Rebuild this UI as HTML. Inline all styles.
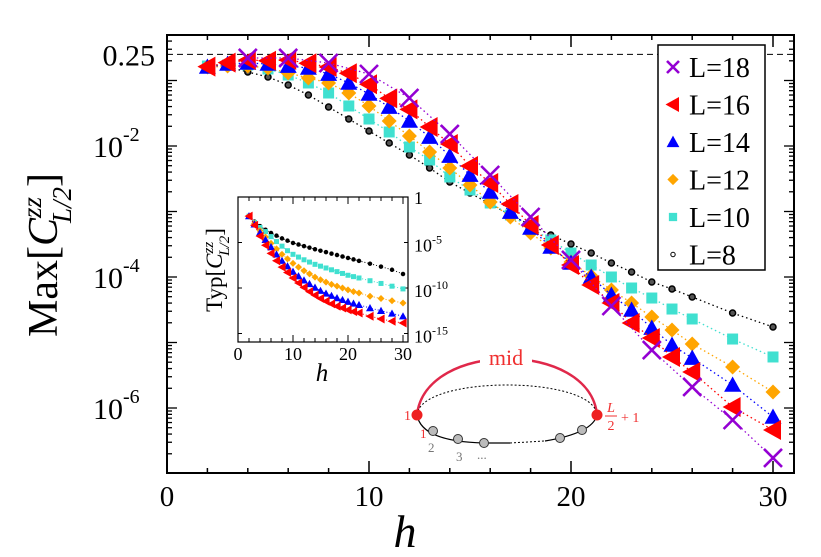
<!DOCTYPE html>
<html><head><meta charset="utf-8"><style>
html,body{margin:0;padding:0;background:#fff;}
svg{display:block;}
text{font-family:"Liberation Serif",serif;}
</style></head><body>
<svg id="chart" width="821" height="557" viewBox="0 0 821 557" xmlns="http://www.w3.org/2000/svg" font-family="Liberation Serif, serif">
<g id="main"></g>
<g id="inset"></g>
<g id="diagram">
  <path d="M417,415 C425,340 590,340 597,415" fill="none" stroke="#e0284a" stroke-width="2.5"/>
  <rect x="480" y="347" width="52" height="22" fill="#fff"/>
  <text x="506" y="365" font-size="22" fill="#f03030" text-anchor="middle" font-family="Liberation Serif, serif">mid</text>
  <path d="M417,415 C420,375 594,375 597,415" fill="none" stroke="#000" stroke-width="1" stroke-dasharray="2,2"/>
  <path d="M417,415 C420,432 440,442 484,443 L510,443" fill="none" stroke="#000" stroke-width="1.2"/>
  <path d="M510,443 L545,441" fill="none" stroke="#000" stroke-width="1" stroke-dasharray="2,2"/>
  <path d="M545,441 C575,436 594,428 597,415" fill="none" stroke="#000" stroke-width="1.2"/>
  <circle cx="433" cy="431" r="4.5" fill="#bbb" stroke="#333"/>
  <circle cx="458" cy="439" r="4.5" fill="#bbb" stroke="#333"/>
  <circle cx="484" cy="443" r="4.5" fill="#bbb" stroke="#333"/>
  <circle cx="560" cy="438" r="4.5" fill="#bbb" stroke="#333"/>
  <circle cx="582" cy="430" r="4.5" fill="#bbb" stroke="#333"/>
  <circle cx="417" cy="415" r="5.5" fill="#ee2020"/>
  <circle cx="597" cy="415" r="5.5" fill="#ee2020"/>
  <text x="404" y="420" font-size="14" fill="#f03030" font-family="Liberation Serif, serif">1</text>
  <text x="420" y="438" font-size="13" fill="#f03030" font-family="Liberation Serif, serif">1</text>
  <text x="428" y="452" font-size="13" fill="#777" font-family="Liberation Serif, serif">2</text>
  <text x="456" y="461" font-size="13" fill="#777" font-family="Liberation Serif, serif">3</text>
  <text x="477" y="459" font-size="13" fill="#777" font-family="Liberation Serif, serif">...</text>
  <text x="611" y="412" font-size="14" fill="#f03030" font-style="italic" text-anchor="middle" font-family="Liberation Serif, serif">L</text>
  <line x1="605" y1="416" x2="617" y2="416" stroke="#f03030" stroke-width="1"/>
  <text x="611" y="430" font-size="14" fill="#f03030" text-anchor="middle" font-family="Liberation Serif, serif">2</text>
  <text x="621" y="422" font-size="14" fill="#f03030" font-family="Liberation Serif, serif">+ 1</text>
</g>
</svg>
<script>
// ===== main plot data (log10 of Max[C]) =====
const hA = [2,3,4,5,6,7,8,9,10,11,12,13,14,15,16,17,18,19,20,21,22,23,24,25,26,28,30];
const hL18 = [4,6,8,10,12,14,16,18,20,22,24,26,28,30];
const logL18 = [-0.656,-0.656,-0.733,-0.901,-1.267,-1.817,-2.443,-3.084,-3.740,-4.443,-5.115,-5.679,-6.183,-6.763];
const logL16 = [-0.789,-0.728,-0.687,-0.698,-0.687,-0.737,-0.794,-0.890,-1.058,-1.272,-1.440,-1.710,-1.969,-2.305,-2.565,-2.885,-3.206,-3.511,-3.817,-4.122,-4.397,-4.702,-4.931,-5.221,-5.450,-5.985,-6.336];
const logL14 = [-0.794,-0.748,-0.733,-0.748,-0.779,-0.809,-0.901,-1.038,-1.206,-1.405,-1.618,-1.863,-2.153,-2.443,-2.702,-3.008,-3.252,-3.542,-3.786,-4.000,-4.275,-4.504,-4.779,-5.038,-5.237,-5.649,-6.137];
const logL12 = [-0.794,-0.779,-0.779,-0.809,-0.885,-0.962,-1.038,-1.191,-1.389,-1.618,-1.847,-2.092,-2.336,-2.595,-2.855,-3.084,-3.328,-3.557,-3.771,-3.985,-4.198,-4.397,-4.611,-4.809,-5.023,-5.374,-5.756];
const logL10 = [-0.779,-0.763,-0.763,-0.824,-0.916,-1.038,-1.191,-1.389,-1.588,-1.786,-2.015,-2.214,-2.473,-2.672,-2.870,-3.053,-3.252,-3.435,-3.634,-3.817,-4.000,-4.168,-4.321,-4.489,-4.641,-4.947,-5.221];
const logL8 = [-0.779,-0.794,-0.870,-0.947,-1.069,-1.221,-1.405,-1.588,-1.771,-1.954,-2.137,-2.336,-2.550,-2.718,-2.885,-3.053,-3.206,-3.359,-3.496,-3.634,-3.786,-3.924,-4.076,-4.183,-4.305,-4.550,-4.763];
const xTicks = [0,10,20,30];
const yTickLabels = ["10","10","10"];
const yTickExps = [-2,-4,-6];
const legendLabels = ["L=18","L=16","L=14","L=12","L=10","L=8"];
// ===== inset data (log10 of Typ[C]) =====
const hI = [2,3,4,5,6,7,8,9,10,11,12,13,14,15,16,17,18,19,20,21,22,24,26,28,30];
const tL16 = [-2.1,-3.1,-4.3,-5.3,-6.2,-7.0,-7.7,-8.3,-8.9,-9.45,-9.95,-10.4,-10.8,-11.15,-11.45,-11.75,-12.0,-12.2,-12.4,-12.6,-12.75,-13.1,-13.4,-13.65,-13.85];
const tL14 = [-2.1,-3.0,-3.9,-4.7,-5.5,-6.3,-7.0,-7.6,-8.2,-8.7,-9.15,-9.55,-9.95,-10.3,-10.6,-10.85,-11.1,-11.3,-11.5,-11.7,-11.85,-12.2,-12.5,-12.8,-13.1];
const tL12 = [-2.1,-2.9,-3.7,-4.4,-5.1,-5.7,-6.3,-6.8,-7.3,-7.7,-8.1,-8.45,-8.8,-9.1,-9.35,-9.6,-9.8,-10.0,-10.2,-10.4,-10.55,-10.9,-11.15,-11.4,-11.65];
const tL10 = [-2.1,-2.8,-3.35,-3.8,-4.35,-4.9,-5.4,-5.9,-6.3,-6.6,-6.9,-7.15,-7.4,-7.6,-7.8,-8.0,-8.2,-8.4,-8.6,-8.75,-8.9,-9.2,-9.5,-9.8,-10.1];
const tL8 = [-2.1,-2.7,-3.2,-3.6,-3.95,-4.25,-4.55,-4.8,-5.05,-5.22,-5.4,-5.57,-5.74,-5.9,-6.06,-6.22,-6.38,-6.54,-6.7,-6.86,-7.02,-7.33,-7.65,-8.0,-8.46];
const insetYExps = [0,-5,-10,-15];

const NS="http://www.w3.org/2000/svg";
function mk(parent,tag,attrs){const e=document.createElementNS(NS,tag);for(const k in attrs)e.setAttribute(k,attrs[k]);if(tag==='text')e.setAttribute('font-family','Liberation Serif, serif');parent.appendChild(e);return e;}
const main=document.getElementById('main'), inset=document.getElementById('inset');
const X0=167,X1=794,Y0=35,Y1=473;
const sx=h=>167+20.2*h;
const sy=l=>15-65.5*l;
let e=mk(main,'line',{x1:X0,x2:X1,y1:sy(Math.log10(0.25)),y2:sy(Math.log10(0.25)),stroke:'#000','stroke-width':1,'stroke-dasharray':'6,4'});


for(let h=0;h<=31;h+=2){
  if(h%10===0)continue;
  for(const [ya,d] of [[Y1,-5],[Y0,5]]){e=mk(main,'line',{x1:sx(h),x2:sx(h),y1:ya,y2:ya+d,stroke:'#000','stroke-width':1.5});}
}
xTicks.forEach(t=>{
  for(const [ya,d] of [[Y1,-12],[Y0,12]]){e=mk(main,'line',{x1:sx(t),x2:sx(t),y1:ya,y2:ya+d,stroke:'#000','stroke-width':1.5});}
  e=mk(main,'text',{x:sx(t),y:506,'font-size':29,'text-anchor':'middle'});e.textContent=t;
  
  
});
for(let k=-7;k<=0;k++){
  for(let m=1;m<=9;m++){
    const l=k+Math.log10(m);const y=sy(l);if(y<Y0||y>Y1)continue;
    const len=m===1?10:5;
    for(const [xa,d] of [[X0,len],[X1,-len]]){e=mk(main,'line',{x1:xa,x2:xa+d,y1:y,y2:y,stroke:'#000','stroke-width':1.3});}
  }
}
yTickExps.forEach((p,i)=>{
  e=mk(main,'text',{x:123,y:sy(p)+11,'font-size':30,'text-anchor':'end'});
  
  
  e.textContent=yTickLabels[i];
  const s=mk(main,'text',{x:123,y:sy(p)-5,'font-size':20});s.textContent=p;
  
  
});
e=mk(main,'text',{x:155,y:sy(Math.log10(0.25))+11,'font-size':30,'text-anchor':'end'});e.textContent='0.25';


e=mk(main,'rect',{x:X0,y:Y0,width:X1-X0,height:Y1-Y0,fill:'none',stroke:'#000','stroke-width':2});


e=mk(main,'text',{x:405,y:547,'font-size':46,'font-style':'italic','text-anchor':'middle'});e.textContent='h';


e=mk(main,'text',{transform:'translate(57,255) rotate(-90)','font-size':42,'text-anchor':'middle'});


e.innerHTML='Max[<tspan font-style="italic">C</tspan><tspan font-size="27" font-style="italic" dy="-16">zz</tspan><tspan font-size="27" font-style="italic" dx="-26" dy="30">L/2</tspan><tspan dy="-14">]</tspan>';

function marker(g,type,x,y,col,s){
  let m;
  if(type==='x'){m=mk(g,'path',{d:`M${x-s},${y-s}L${x+s},${y+s}M${x-s},${y+s}L${x+s},${y-s}`,stroke:col,'stroke-width':2.6,fill:'none'});}
  else if(type==='ltri'){m=mk(g,'path',{d:`M${x-s},${y}L${x+s*0.8},${y-s}L${x+s*0.8},${y+s}Z`,fill:col});}
  else if(type==='utri'){m=mk(g,'path',{d:`M${x},${y-s}L${x+s},${y+s*0.8}L${x-s},${y+s*0.8}Z`,fill:col});}
  else if(type==='dia'){m=mk(g,'path',{d:`M${x},${y-s}L${x+s},${y}L${x},${y+s}L${x-s},${y}Z`,fill:col});}
  else if(type==='sq'){m=mk(g,'rect',{x:x-s,y:y-s,width:2*s,height:2*s,fill:col});}
  else {m=mk(g,'circle',{cx:x,cy:y,r:s,fill:'#555',stroke:col,'stroke-width':1.5});}
  return m;
}
const series=[
 {name:'l8',h:hA,v:logL8,c:'#000',t:'o',s:3},
 {name:'l10',h:hA,v:logL10,c:'#40e0d0',t:'sq',s:5.5},
 {name:'l12',h:hA,v:logL12,c:'#ffa500',t:'dia',s:7.5},
 {name:'l14',h:hA,v:logL14,c:'#0000ff',t:'utri',s:8.5},
 {name:'l16',h:hA,v:logL16,c:'#ff0000',t:'ltri',s:10},
 {name:'l18',h:hL18,v:logL18,c:'#9400d3',t:'x',s:9}
];
series.forEach(S=>{
  const g=mk(main,'g',{});
  
  
  const pts=S.h.map((h,i)=>sx(h)+','+sy(S.v[i])).join(' ');
  const pl=mk(g,'polyline',{points:pts,fill:'none',stroke:S.c,'stroke-width':1.3,'stroke-dasharray':'1.5,3'});
  
  
  S.h.forEach((h,i)=>{
    const m=marker(g,S.t,sx(h),sy(S.v[i]),S.c,S.s);
    
    
  });
});
const lg=mk(main,'g',{});


e=mk(lg,'rect',{x:658,y:45,width:107,height:225,fill:'#fff',stroke:'#000','stroke-width':1.5});


const legOrder=[5,4,3,2,1,0];
legOrder.forEach((si,i)=>{
  const S=series[si];const y=67+i*37.5;
  const m=marker(lg,S.t,673,y,S.c,S.t==='o'?2.2:(S.t==='x'?6:S.s*0.75));
  if(S.t==='o'){m.setAttribute('fill','#fff');m.setAttribute('stroke-width','1');}
  
  
  const t=mk(lg,'text',{x:689,y:y+10,'font-size':28});t.textContent=legendLabels[i];
  
  
});

const IX0=238,IX1=408,IY0=197,IY1=342;
const ix=h=>238+5.5*h;
const iy=l=>197-9.1*l;
e=mk(inset,'rect',{x:IX0,y:IY0,width:IX1-IX0,height:IY1-IY0,fill:'#fff',stroke:'#000','stroke-width':1.2});


for(let h=2;h<=30;h+=2){
  const big=h%10===0;
  for(const [ya,d] of [[IY1,big?-7:-4],[IY0,big?7:4]]){e=mk(inset,'line',{x1:ix(h),x2:ix(h),y1:ya,y2:ya+d,stroke:'#000','stroke-width':1});}
}
[0,10,20,30].forEach(t=>{e=mk(inset,'text',{x:ix(t),y:360,'font-size':18,'text-anchor':'middle'});e.textContent=t;});
insetYExps.forEach(p=>{
  for(const [xa,d] of [[IX0,4],[IX1,-4]]){e=mk(inset,'line',{x1:xa,x2:xa+d,y1:iy(p),y2:iy(p),stroke:'#000','stroke-width':1});}
  if(p===0){e=mk(inset,'text',{x:414,y:iy(p)+7,'font-size':18});e.textContent='1';}
  else{e=mk(inset,'text',{x:414,y:iy(p)+9,'font-size':18});e.innerHTML='10<tspan font-size="12" dy="-8">'+p+'</tspan>';}
  
  
});
e=mk(inset,'text',{x:322,y:381,'font-size':25,'font-style':'italic','text-anchor':'middle'});e.textContent='h';


e=mk(inset,'text',{transform:'translate(222,270) rotate(-90)','font-size':23,'text-anchor':'middle'});
e.innerHTML='Typ[<tspan font-style="italic">C</tspan><tspan font-size="15" font-style="italic" dy="-9">zz</tspan><tspan font-size="15" font-style="italic" dx="-14" dy="16">L/2</tspan><tspan dy="-7">]</tspan>';


const iser=[
 {name:'l8',v:tL8,c:'#000',t:'o',s:1.5},
 {name:'l10',v:tL10,c:'#40e0d0',t:'sq',s:2.5},
 {name:'l12',v:tL12,c:'#ffa500',t:'dia',s:3.5},
 {name:'l14',v:tL14,c:'#0000ff',t:'utri',s:4},
 {name:'l16',v:tL16,c:'#ff0000',t:'ltri',s:4.5}
];
iser.forEach(S=>{
  const g=mk(inset,'g',{});
  
  
  const pl=mk(g,'polyline',{points:hI.map((h,i)=>ix(h)+','+iy(S.v[i])).join(' '),fill:'none',stroke:S.c,'stroke-width':1,'stroke-dasharray':'1,2'});
  
  
  hI.forEach((h,i)=>{
    const m=marker(g,S.t,ix(h),iy(S.v[i]),S.c,S.s);
    if(S.t==='o'){m.setAttribute('fill','#000');}
    
    
  });
});
</script>
</body></html>
